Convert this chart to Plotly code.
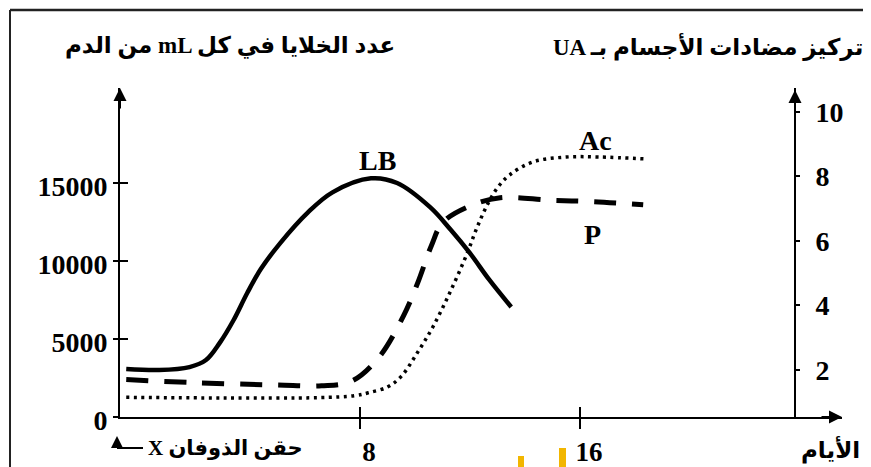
import plotly.graph_objects as go

# ---------------- data ----------------
lb_days = [-0.5, 0.7, 1.8, 2.4, 2.9, 3.4, 3.9, 4.4, 5.1, 6.1, 7.0, 8.4, 9.35, 10.55, 11.3, 12.0, 12.7, 13.5]
lb_cells = [3080, 3010, 3200, 3650, 4750, 6200, 7950, 9500, 11150, 13100, 14400, 15300, 15000, 13450, 12000, 10500, 8800, 7050]

p_days = [-0.5, 2, 5, 6.6, 7.7, 8.7, 9.6, 10.1, 10.6, 11.0, 11.9, 13.1, 14.9, 16.5, 18.3]
p_cells = [2400, 2200, 2050, 2000, 2300, 3850, 6550, 8600, 11000, 12450, 13450, 14050, 13900, 13800, 13600]

ac_days = [-0.5, 3, 6.5, 7.8, 8.3, 9.0, 9.5, 10.1, 10.65, 11.27, 11.89, 12.25, 12.62, 13.0, 13.45, 14.3, 15.5, 16.7, 18.4]
ac_conc = [1.15, 1.13, 1.14, 1.2, 1.29, 1.47, 1.8, 2.55, 3.33, 4.4, 5.6, 6.4, 7.1, 7.65, 8.05, 8.45, 8.6, 8.6, 8.54]

x_ticks = [8, 16]
x_ticktext = ["8", "16"]
left_ticks = [0, 5000, 10000, 15000]
left_ticktext = ["0", "5000", "10000", "15000"]
right_ticks = [2, 4, 6, 8, 10]
right_ticktext = ["2", "4", "6", "8", "10"]

left_title = "من الدم mL عدد الخلايا في كل"
right_title = "UA تركيز مضادات الأجسام بـ"
x_title = "الأيام"
inject_label = "X حقن الذوفان"

# ---------------- figure ----------------
OFF = 8                      # page body margin of the exported html
W, H = 871 - OFF, 467 - OFF
ML, MR, MT, MB = 120 - OFF, 29, 88 - OFF, 50
SERIF = "Liberation Serif, DejaVu Sans"
PW, PH = W - ML - MR, H - MT - MB

fig = go.Figure()
fig.add_trace(go.Scatter(x=lb_days, y=lb_cells, mode="lines", line=dict(color="black", width=4.5, shape="spline", smoothing=1.0),
                         xaxis="x", yaxis="y", showlegend=False, hoverinfo="skip"))
fig.add_trace(go.Scatter(x=p_days, y=p_cells, mode="lines", line=dict(color="black", width=5, dash="22px,16px", shape="spline", smoothing=1.0),
                         xaxis="x", yaxis="y", showlegend=False, hoverinfo="skip"))
fig.add_trace(go.Scatter(x=ac_days, y=ac_conc, mode="lines", line=dict(color="black", width=3.5, dash="3px,4.5px", shape="spline", smoothing=1.0),
                         xaxis="x", yaxis="y2", showlegend=False, hoverinfo="skip"))
# helper trace for crossing tick marks
fig.add_trace(go.Scatter(x=[None], y=[None], xaxis="x2", yaxis="y3", showlegend=False, hoverinfo="skip"))

tickfont = dict(family=SERIF, size=28, color="black")


def px_x(px):
    return (px - OFF - ML) / PW


def px_y(py):
    return (H - MB - (py - OFF)) / PH


right_pos = px_x(795)

fig.update_layout(
    width=W, height=H, autosize=False,
    margin=dict(l=ML, r=MR, t=MT, b=MB, pad=0, autoexpand=False),
    paper_bgcolor="white", plot_bgcolor="white",
    showlegend=False,
    xaxis=dict(domain=[0, 1], range=[-0.727, 25.53], showgrid=False, zeroline=False, automargin=False,
               showline=True, linecolor="black", linewidth=2,
               ticks="outside", ticklen=10, tickwidth=2, tickcolor="black",
               tickvals=x_ticks, ticktext=[f"<b>{t}</b>" for t in x_ticktext],
               tickfont=dict(family=SERIF, size=27, color="black"),
               ticklabelshift=9, ticklabelstandoff=0),
    xaxis2=dict(overlaying="x", matches="x", anchor="y", side="bottom", showgrid=False, zeroline=False, automargin=False,
                showline=False, ticks="inside", ticklen=10, tickwidth=2, tickcolor="black",
                tickvals=x_ticks, showticklabels=False),
    yaxis=dict(range=[0, 21090], showgrid=False, zeroline=False, automargin=False,
               showline=True, linecolor="black", linewidth=2,
               ticks="outside", ticklen=5, tickwidth=2, tickcolor="black",
               tickvals=left_ticks, ticktext=[f"<b>{t}</b>" for t in left_ticktext], tickfont=tickfont,
               ticklabelstandoff=0, ticklabelshift=3),
    yaxis3=dict(overlaying="y", matches="y", anchor="x", side="left", showgrid=False, zeroline=False, automargin=False,
                showline=False, ticks="inside", ticklen=8, tickwidth=2, tickcolor="black",
                tickvals=left_ticks[1:], showticklabels=False),
    yaxis2=dict(overlaying="y", anchor="free", position=right_pos, side="right", automargin=False,
                range=[0.54, 10.74], showgrid=False, zeroline=False,
                showline=True, linecolor="black", linewidth=2,
                ticks="outside", ticklen=4, tickwidth=2, tickcolor="black",
                tickvals=right_ticks, ticktext=[f"<b>{t}</b>" for t in right_ticktext], tickfont=tickfont,
                ticklabelstandoff=10),
)


def label(x, y, text, size=23, xref="paper", yref="paper", xanchor="center"):
    return dict(x=x, y=y, xref=xref, yref=yref, text=f"<b>{text}</b>", showarrow=False,
                xanchor=xanchor, yanchor="middle", font=dict(family=SERIF, size=size, color="black"))


arrow = dict(showarrow=True, arrowhead=2, arrowsize=1.3, arrowwidth=2, arrowcolor="black", text="",
             xref="paper", yref="paper")

annotations = [
    # axis arrows
    dict(arrow, x=0, y=1, ax=0, ay=22),
    dict(arrow, x=right_pos, y=px_y(90), ax=0, ay=22),
    dict(arrow, x=1, y=0, ax=-22, ay=0),
    # injection arrow
    dict(arrow, x=px_x(117), y=px_y(436), ax=0, ay=12, arrowsize=1.2),
    # curve labels
    label(8.62, 16470, "LB", 28, "x", "y"),
    label(16.44, 11730, "P", 28, "x", "y"),
    label(16.55, 9.1, "Ac", 28, "x", "y2"),
    # titles
    label(px_x(230), px_y(46), left_title),
    label(px_x(708), px_y(46), right_title),
    label(px_x(830), px_y(449), x_title),
    label(px_x(146), px_y(448), inject_label, size=21, xanchor="left"),
]
fig.update_layout(annotations=annotations)

shapes = [
    # outer frame (top and left edges of the scanned figure)
    dict(type="line", xref="paper", yref="paper", x0=px_x(10), x1=px_x(871), y0=px_y(10), y1=px_y(10),
         line=dict(color="#222", width=2.5), layer="above"),
    dict(type="line", xref="paper", yref="paper", x0=px_x(10), x1=px_x(10), y0=px_y(10), y1=px_y(467),
         line=dict(color="#222", width=2), layer="above"),
    dict(type="line", xref="paper", yref="paper", x0=px_x(117), x1=px_x(143), y0=px_y(448), y1=px_y(448),
         line=dict(color="black", width=2)),
    # watermark remnants at the bottom edge
    dict(type="rect", xref="paper", yref="paper", x0=px_x(518), x1=px_x(524), y0=px_y(470), y1=px_y(456),
         line=dict(width=0), fillcolor="#f2b600"),
    dict(type="rect", xref="paper", yref="paper", x0=px_x(559), x1=px_x(566), y0=px_y(470), y1=px_y(448),
         line=dict(width=0), fillcolor="#f2b600"),
]
fig.update_layout(shapes=shapes)

fig.write_html("out.html")
